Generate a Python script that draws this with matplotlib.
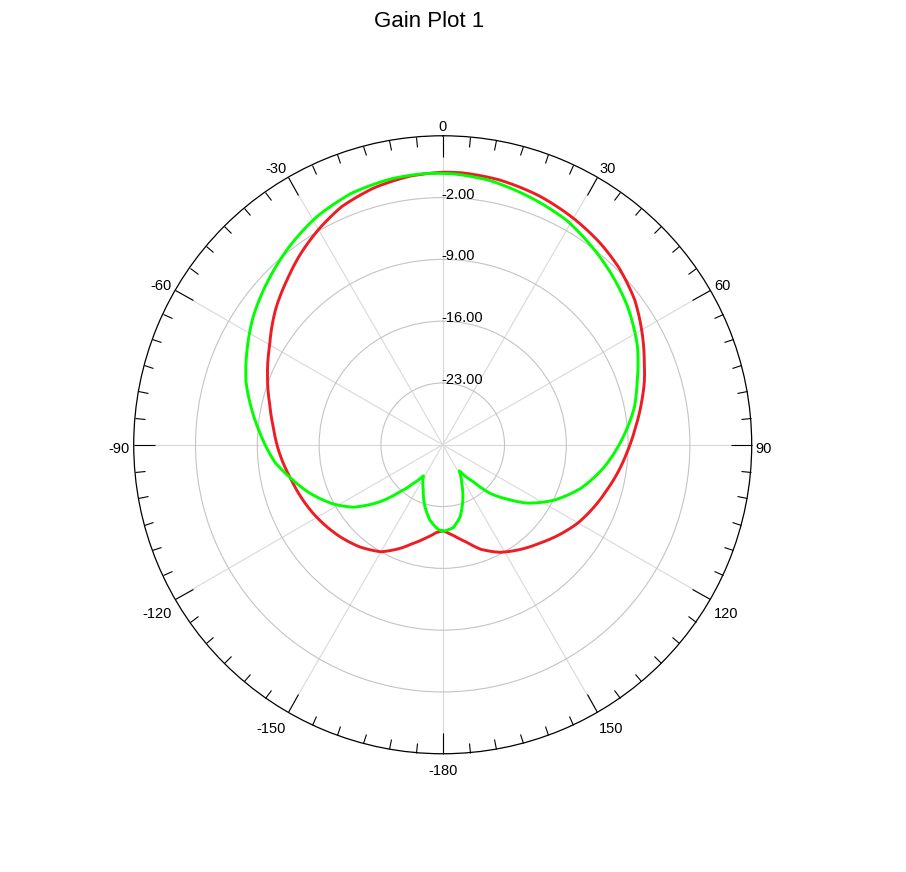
import matplotlib
matplotlib.use('Agg')
import matplotlib.pyplot as plt
import numpy as np

plt.rcParams['font.family'] = ['Liberation Sans', 'DejaVu Sans']

title = "Gain Plot 1"

red_theta = [-180, -176, -170, -163, -157.6, -150, -141, -132, -118, -103, -92, -84, -77,
             -69, -60, -51, -43, -37, -30, -23, -15, -7, 0, 4, 12, 21, 30, 38, 45, 53,
             61.5, 67, 73, 78, 85, 92, 105, 120, 135, 144, 152, 160, 166, 172, 177, 180]
red_gain = [-20.25, -20.05, -19.3, -18.3, -17.3, -16.0, -15.1, -14.4, -13.4, -12.4, -11.4, -10.7, -9.9,
            -8.74, -7.37, -5.64, -4.25, -3.1, -1.85, -0.7, 0.12, 0.65, 0.87, 0.88, 0.68, 0.25, -0.38, -1.02, -1.72, -2.76,
            -4.24, -5.2, -6.13, -6.98, -8.1, -9.06, -10.66, -12.3, -14.3, -15.3, -16.2, -17.4, -18.6, -19.5, -20.05, -20.25]

green_theta = [-180, -177, -170.4, -164.1, -156.8, -152, -148.2, -142.7, -137.7, -132.2, -125, -118.4,
               -110, -102, -96, -86, -79, -72, -64, -56, -46, -38, -29, -20, -11, -4, 2, 10, 20, 29,
               37, 44, 53, 63, 72, 79, 88, 98, 107.5, 116.4, 124.7, 129.7, 135.7, 140.4, 147.4,
               153.8, 160.1, 166.5, 172.7, 178.5, 180]
green_gain = [-20.23, -20.38, -21.33, -22.68, -24.41, -25.2, -25.85, -24.49, -22.79, -20.38, -17.67, -15.9,
              -13.98, -12.3, -10.9, -9.2, -7.9, -6.56, -5.35, -4.1, -2.75, -1.65, -0.5, 0.3, 0.68, 0.78, 0.72, 0.41, -0.31, -0.97,
              -1.92, -2.74, -3.83, -5.26, -6.84, -7.89, -9.63, -11.56, -13.6, -15.9, -18.4, -20.3, -22.3, -24.55, -26.5,
              -25.11, -23.32, -21.59, -20.54, -20.23, -20.23]

r_ticks = [-23, -16, -9, -2]
theta_major = [0, 30, 60, 90, 120, 150, 180, 210, 240, 270, 300, 330]
theta_labels = ['0', '30', '60', '90', '120', '150', '-180', '-150', '-120', '-90', '-60', '-30']

R_MIN, R_MAX = -30, 5

fig = plt.figure(figsize=(9.06, 8.72), dpi=100)
ax = fig.add_axes([0.1476, 0.1356, 0.6821, 0.7087], projection='polar')
ax.set_theta_zero_location('N')
ax.set_theta_direction(-1)

for th, g, col, z in [(red_theta, red_gain, '#ee1c24', 3), (green_theta, green_gain, '#00ff00', 4)]:
    ln, = ax.plot(np.deg2rad(th), g, color=col, lw=2.1, zorder=z)
    ln.get_path()._interpolation_steps = 40

ax.set_rlim(R_MIN, R_MAX)
ax.set_yticks(r_ticks)
ax.set_yticklabels([])

ax.set_xticks(np.deg2rad(theta_major))
ax.set_xticklabels([])
ax.set_xticks(np.deg2rad(np.arange(0, 360, 5)), minor=True)
ax.tick_params(axis='x', which='both', top=True, bottom=False, direction='in', colors='black', width=0.8)
ax.tick_params(axis='x', which='major', length=15)
ax.tick_params(axis='x', which='minor', length=7)
ax.tick_params(axis='y', length=0)
ax.xaxis.grid(True, color='#d9d9d9', lw=0.8)
ax.yaxis.grid(True, color='#c4c4c4', lw=0.8)
ax.spines['polar'].set_color('black')
ax.spines['polar'].set_linewidth(0.9)

# angular labels
for deg, lab in zip(theta_major, theta_labels):
    t = np.deg2rad(deg)
    s, c = np.sin(t), np.cos(t)
    if s > 0.05:
        ha = 'left'
    elif s < -0.05:
        ha = 'right'
    else:
        ha = 'center'
    dx = 4 * s
    if c > 0.1:
        dy = 9 * c
    elif c < -0.1:
        dy = -(12.5 + 4.5 * abs(c))
    else:
        dy = -4.25
    ax.annotate(lab, xy=(t, R_MAX), xytext=(dx, dy), textcoords='offset pixels',
                ha=ha, va='center', fontsize=10.5, color='black', annotation_clip=False)

# radial labels
for v in r_ticks:
    ax.annotate(f'{v:.2f}', xy=(0, v), xytext=(-1.5, 3), textcoords='offset pixels',
                ha='left', va='center', fontsize=10.5, color='black', zorder=5)

fig.text(0.4735, 0.975, title, ha='center', va='center', fontsize=16)
fig.savefig('out.png', dpi=100)
